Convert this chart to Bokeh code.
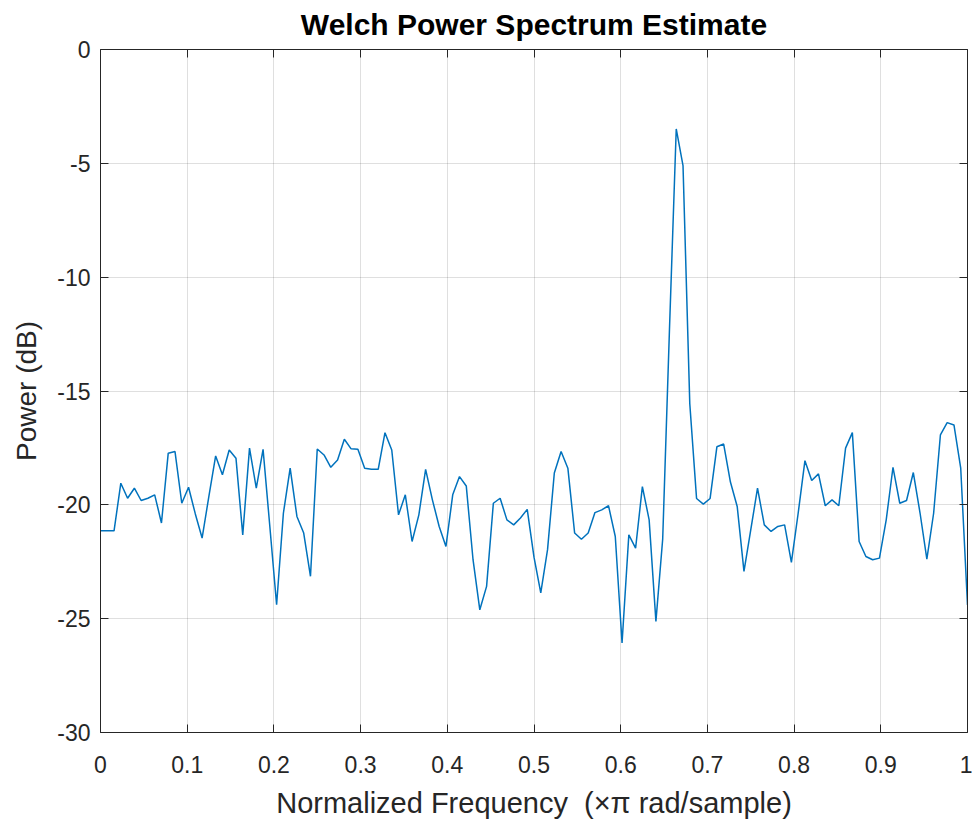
from bokeh.plotting import figure
from bokeh.models import (Range1d, LinearAxis, FixedTicker, CustomJSTickFormatter,
                          ColumnDataSource, CustomLabelingPolicy)
from bokeh.embed import file_html
from bokeh.resources import INLINE

# Welch PSD estimate (dB), 129 bins from 0 to 1 (x pi rad/sample)
power_db = [
    -21.14, -21.14, -21.14, -19.05, -19.71, -19.27, -19.81, -19.71, -19.56, -20.80,
    -17.73, -17.66, -19.93, -19.23, -20.40, -21.46, -19.63, -17.85, -18.68, -17.59,
    -17.95, -21.32, -17.51, -19.27, -17.56, -20.95, -24.39, -20.37, -18.39, -20.51,
    -21.24, -23.14, -17.55, -17.81, -18.35, -18.03, -17.12, -17.54, -17.56, -18.39,
    -18.44, -18.44, -16.83, -17.59, -20.44, -19.56, -21.61, -20.44, -18.44, -19.78,
    -20.95, -21.83, -19.56, -18.76, -19.17, -22.41, -24.61, -23.58, -19.93, -19.71,
    -20.66, -20.88, -20.58, -20.20, -22.30, -23.87, -21.97, -18.60, -17.66, -18.39,
    -21.24, -21.51, -21.24, -20.34, -20.22, -20.04, -21.39, -26.07, -21.32, -21.90,
    -19.20, -20.66, -25.12, -21.50, -12.30, -3.49, -5.10, -15.56, -19.72, -19.97,
    -19.72, -17.45, -17.33, -19.00, -20.07, -22.92, -21.10, -19.27, -20.88, -21.17,
    -20.95, -20.88, -22.53, -20.37, -18.06, -18.93, -18.64, -20.04, -19.78, -20.04,
    -17.51, -16.83, -21.61, -22.27, -22.41, -22.34, -20.66, -18.35, -19.93, -19.81,
    -18.58, -20.37, -22.38, -20.37, -16.93, -16.39, -16.49, -18.39, -24.40,
]
n_bins = len(power_db)
freq = [i / (n_bins - 1) for i in range(n_bins)]

x_ticks = [0, 0.1, 0.2, 0.3, 0.4, 0.5, 0.6, 0.7, 0.8, 0.9, 1]
y_ticks = [-30, -25, -20, -15, -10, -5, 0]

title_text = "Welch Power Spectrum Estimate"
x_label = "Normalized Frequency\u00a0\u00a0(\u00d7\u03c0 rad/sample)"
y_label = "Power (dB)"

FONT = "Liberation Sans"
AX = "#262626"

p = figure(frame_width=867, frame_height=683, output_backend="svg", toolbar_location=None,
           x_range=Range1d(0, 1), y_range=Range1d(-30, 0),
           min_border_left=100, min_border_right=2, min_border_top=44, min_border_bottom=0,
           title=title_text)
p.outline_line_color = None
p.background_fill_color = "white"
p.border_fill_color = "white"

p.title.align = "center"
p.title.text_font = FONT
p.title.text_font_size = "30px"
p.title.text_font_style = "bold"
p.title.text_color = "black"
p.title.standoff = 10

src = ColumnDataSource(dict(f=freq, p=power_db))
p.line("f", "p", source=src, line_color="#0072BD", line_width=1.5)

fmt = CustomJSTickFormatter(code="return String(Math.round(tick*10)/10);")

def style_axis(ax):
    ax.axis_line_color = AX
    ax.axis_line_width = 1
    ax.major_tick_line_color = AX
    ax.major_tick_in = 8
    ax.major_tick_out = 0
    ax.minor_tick_line_color = None
    ax.major_label_text_font = FONT
    ax.major_label_text_color = AX
    ax.axis_label_text_font = FONT
    ax.axis_label_text_color = AX
    ax.axis_label_text_font_style = "normal"

p.xaxis.ticker = FixedTicker(ticks=x_ticks)
p.xaxis.formatter = fmt
p.yaxis.ticker = FixedTicker(ticks=y_ticks)
p.yaxis.formatter = CustomJSTickFormatter(code="return String(tick);")
for ax in (p.xaxis[0], p.yaxis[0]):
    style_axis(ax)
    ax.major_label_text_font_size = "23px"
p.xaxis.axis_label = x_label
p.yaxis.axis_label = y_label
p.xaxis.axis_label_text_font_size = "29px"
p.yaxis.axis_label_text_font_size = "28px"
p.xaxis.major_label_standoff = 23
p.yaxis.major_label_standoff = 10
p.xaxis.axis_label_standoff = 11
p.yaxis.axis_label_standoff = 12

no_labels = CustomLabelingPolicy(code="for (const i of indices) indices.unset(i); return indices;")
top = LinearAxis(ticker=FixedTicker(ticks=x_ticks), major_label_policy=no_labels)
right = LinearAxis(ticker=FixedTicker(ticks=y_ticks), major_label_policy=no_labels)
for ax in (top, right):
    style_axis(ax)
    ax.major_label_text_font_size = "1px"
    ax.major_label_standoff = 0
p.add_layout(top, "above")
p.add_layout(right, "right")

p.xgrid.ticker = FixedTicker(ticks=x_ticks)
p.ygrid.ticker = FixedTicker(ticks=y_ticks)
p.grid.grid_line_color = AX
p.grid.grid_line_alpha = 0.15
p.grid.grid_line_width = 1

open("out.html", "w").write(file_html(p, INLINE))
